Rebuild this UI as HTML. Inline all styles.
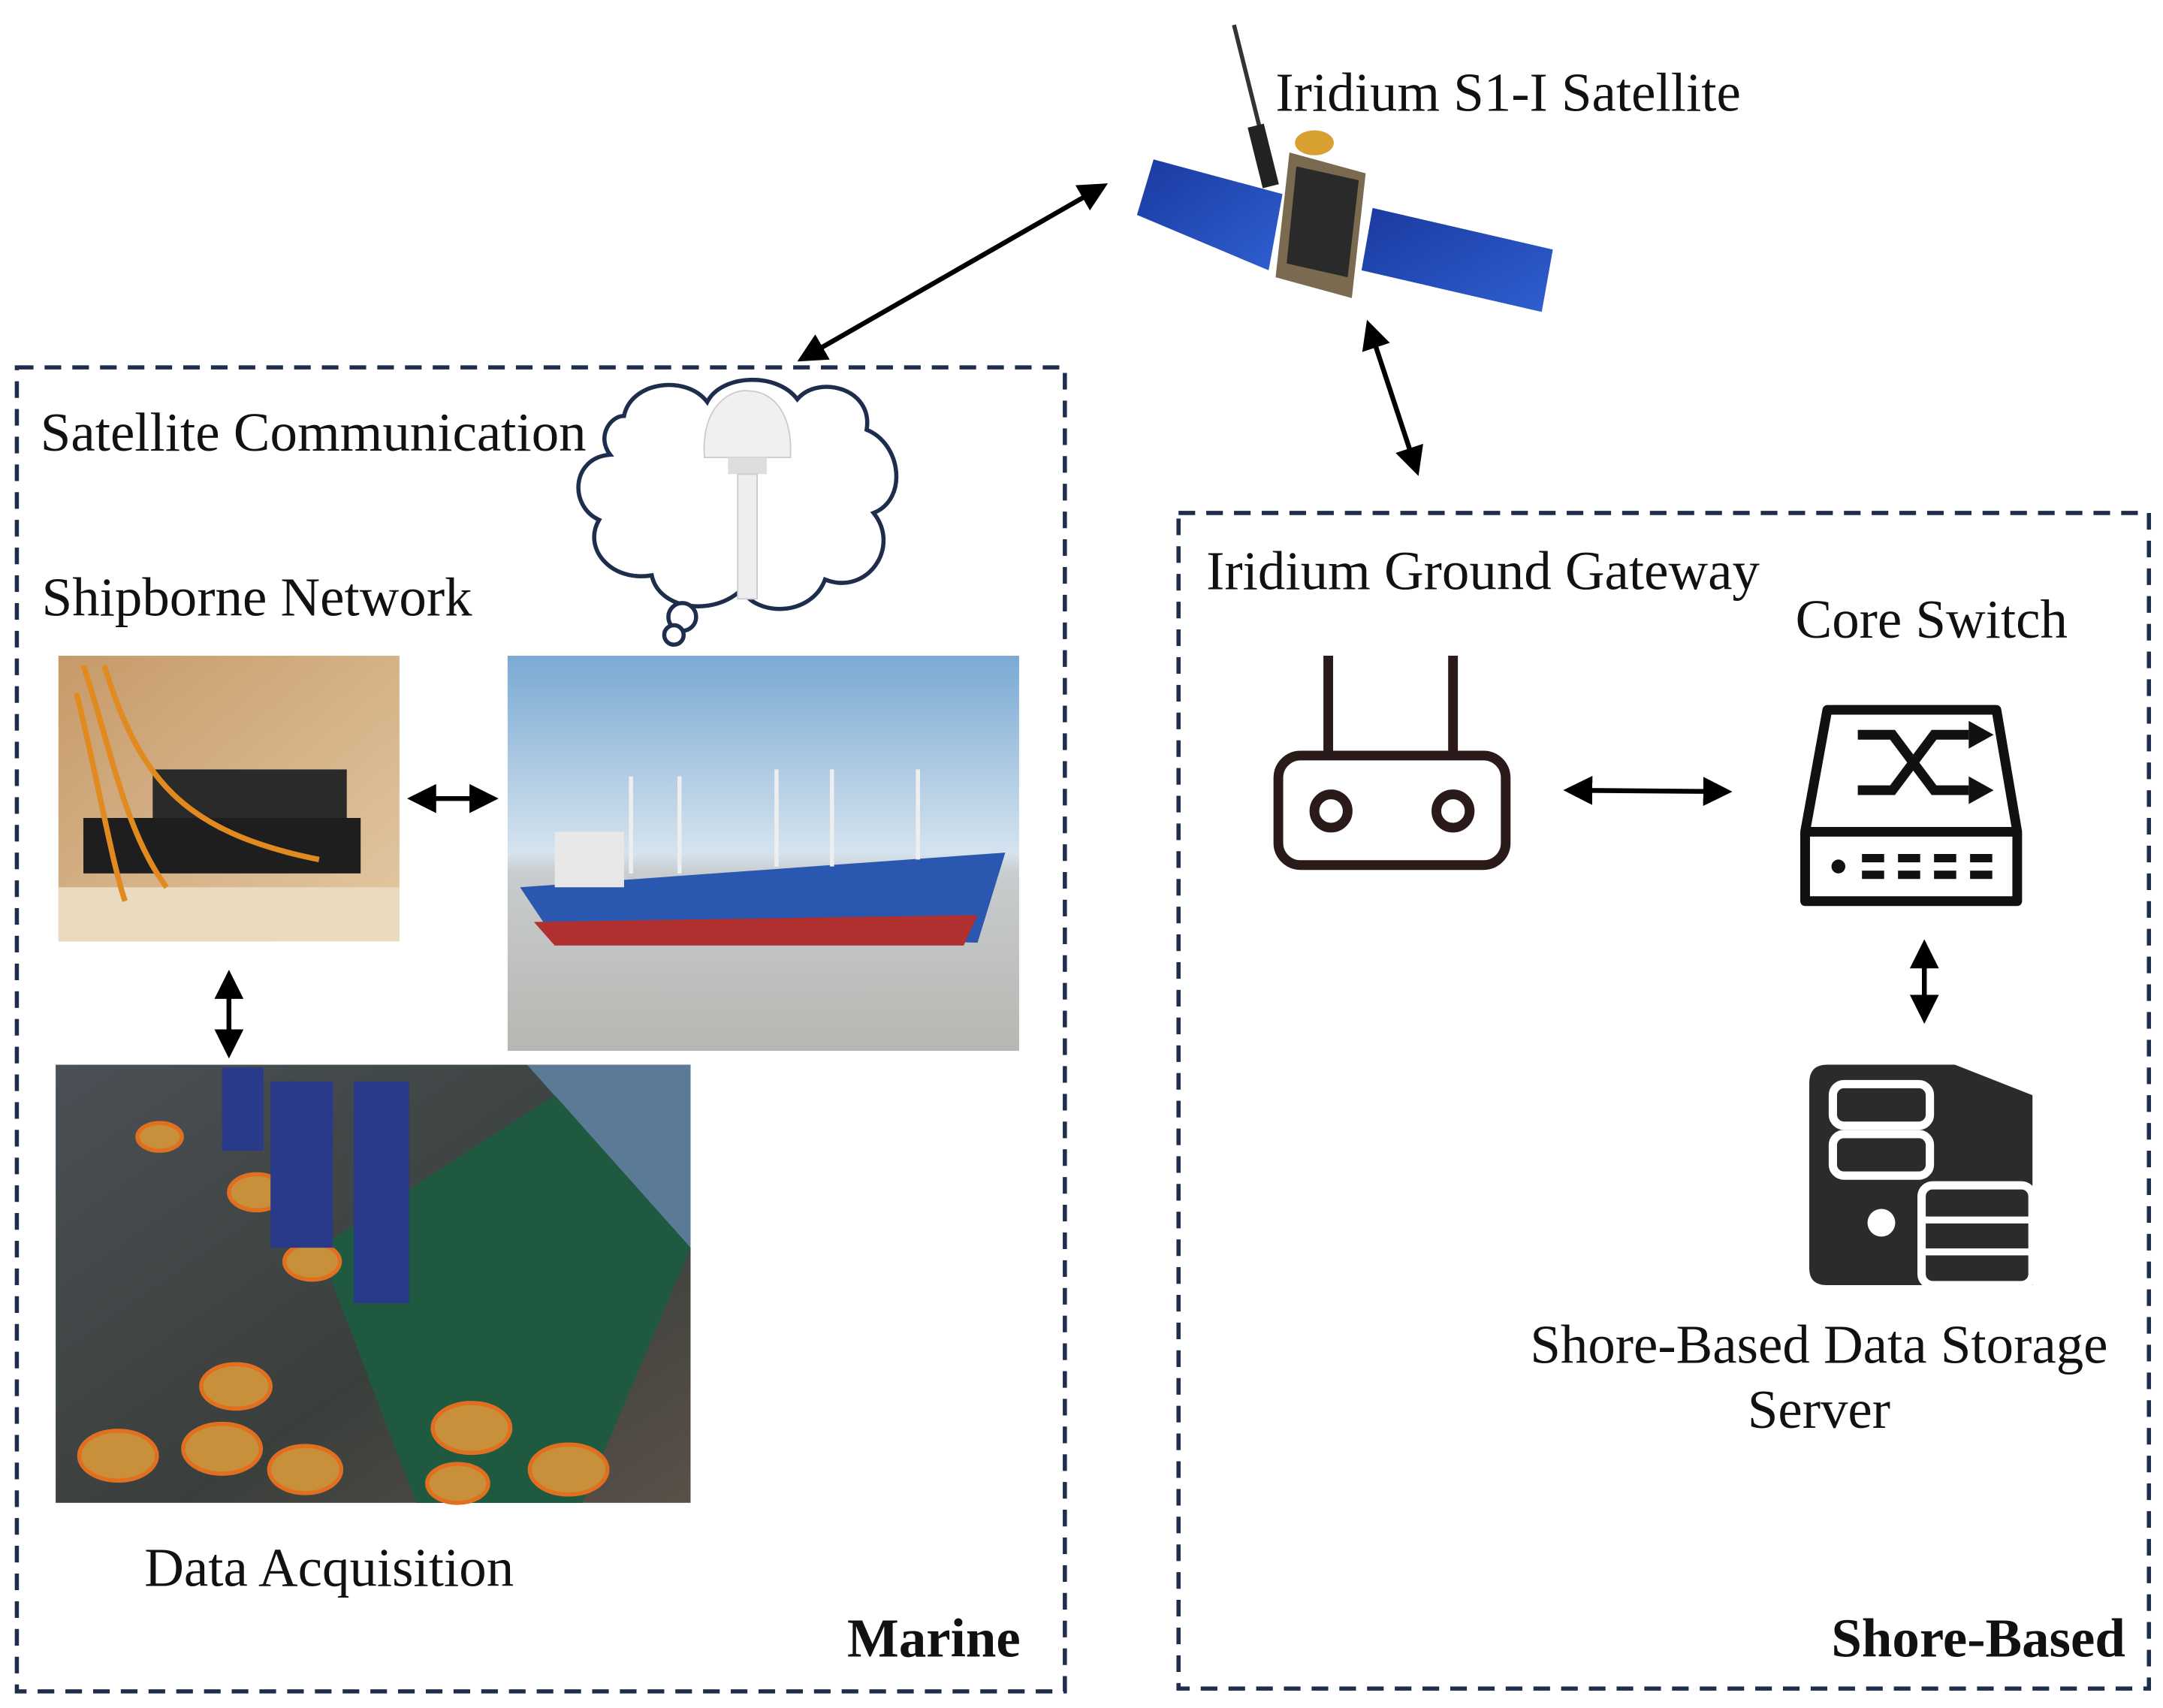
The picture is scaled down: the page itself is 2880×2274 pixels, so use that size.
<!DOCTYPE html>
<html><head><meta charset="utf-8"><style>
html,body{margin:0;padding:0;background:#fff;}
svg{display:block;}
text{font-family:"Liberation Serif",serif;fill:#111;}
</style></head><body>
<svg width="2880" height="2274" viewBox="0 0 1560 1232" xmlns="http://www.w3.org/2000/svg">
<defs>
<marker id="ah" markerWidth="6" markerHeight="6" refX="5" refY="3" orient="auto-start-reverse" markerUnits="strokeWidth">
<path d="M0,0 L6,3 L0,6 Z" fill="#000"/></marker>
<linearGradient id="sky" x1="0" y1="0" x2="0" y2="1">
<stop offset="0" stop-color="#7aaad4"/><stop offset="0.5" stop-color="#d5e3ee"/><stop offset="0.55" stop-color="#c8ccce"/><stop offset="1" stop-color="#b8b6b2"/></linearGradient>
<linearGradient id="wood" x1="0" y1="0" x2="1" y2="1">
<stop offset="0" stop-color="#c79a6a"/><stop offset="1" stop-color="#e3c9a4"/></linearGradient>
<linearGradient id="deck" x1="0" y1="0" x2="1" y2="1">
<stop offset="0" stop-color="#4a5055"/><stop offset="0.6" stop-color="#3a3f3c"/><stop offset="1" stop-color="#5a5048"/></linearGradient>
<linearGradient id="panel" x1="0" y1="0" x2="1" y2="1">
<stop offset="0" stop-color="#1a3aa0"/><stop offset="1" stop-color="#2f5fd0"/></linearGradient>
</defs>

<rect x="12" y="265" width="756" height="955" fill="none" stroke="#1f2d4d" stroke-width="3" stroke-dasharray="12,8"/>
<rect x="850" y="370" width="700" height="848" fill="none" stroke="#1f2d4d" stroke-width="3" stroke-dasharray="12,8"/>

<line x1="890" y1="18" x2="918" y2="130" stroke="#333" stroke-width="3"/>
<rect x="905" y="90" width="12" height="45" fill="#222" transform="rotate(-14 911 112)"/>
<polygon points="832,115 925,140 915,195 820,155" fill="url(#panel)"/>
<polygon points="990,150 1120,180 1112,225 982,195" fill="url(#panel)"/>
<polygon points="930,110 985,125 975,215 920,200" fill="#7a6a50"/>
<polygon points="935,120 980,130 972,200 928,190" fill="#2a2a2a"/>
<ellipse cx="948" cy="103" rx="14" ry="9" fill="#d8a030"/>

<g stroke="#000" stroke-width="3.5" fill="none">
<line x1="578" y1="259" x2="796" y2="134" marker-start="url(#ah)" marker-end="url(#ah)"/>
<line x1="987" y1="234" x2="1022" y2="340" marker-start="url(#ah)" marker-end="url(#ah)"/>
<line x1="297" y1="576" x2="356" y2="576" marker-start="url(#ah)" marker-end="url(#ah)"/>
<line x1="165" y1="703" x2="165" y2="760" marker-start="url(#ah)" marker-end="url(#ah)"/>
<line x1="1131" y1="570" x2="1246" y2="571" marker-start="url(#ah)" marker-end="url(#ah)"/>
<line x1="1388" y1="681" x2="1388" y2="735" marker-start="url(#ah)" marker-end="url(#ah)"/>
</g>

<path d="M450,300 C455,275 495,270 510,290 C520,270 560,268 575,288 C590,270 630,280 625,310 C650,320 655,360 630,370 C650,395 625,430 595,418 C585,445 545,445 535,425 C515,445 475,440 470,415 C440,420 420,395 432,375 C410,365 412,330 440,328 C430,315 440,300 450,300 Z" fill="#fff" stroke="#1f2d4d" stroke-width="3"/>
<circle cx="492" cy="445" r="10" fill="#fff" stroke="#1f2d4d" stroke-width="3"/>
<circle cx="486" cy="458" r="7" fill="#fff" stroke="#1f2d4d" stroke-width="3"/>
<path d="M508,330 C505,290 530,280 540,282 C555,282 572,295 570,330 Z" fill="#f0f0f0" stroke="#ccc"/>
<rect x="525" y="330" width="28" height="12" fill="#ddd"/>
<rect x="532" y="342" width="14" height="90" fill="#eee" stroke="#ccc"/>

<rect x="42" y="473" width="246" height="206" fill="url(#wood)"/>
<rect x="42" y="640" width="246" height="39" fill="#eadbc0"/>
<rect x="110" y="555" width="140" height="40" fill="#2a2a2a"/>
<rect x="60" y="590" width="200" height="40" fill="#1e1e1e"/>
<path d="M60,480 C80,540 90,600 120,640 M75,480 C100,560 130,600 230,620 M55,500 C70,560 80,620 90,650" stroke="#e08a20" stroke-width="4" fill="none"/>

<rect x="366" y="473" width="369" height="285" fill="url(#sky)"/>
<polygon points="375,640 725,615 705,680 395,670" fill="#2a58b0"/>
<polygon points="385,665 705,660 695,682 400,682" fill="#b03030"/>
<rect x="400" y="600" width="50" height="40" fill="#e8e8e8"/>
<g stroke="#eee" stroke-width="3"><line x1="455" y1="560" x2="455" y2="630"/><line x1="490" y1="560" x2="490" y2="630"/><line x1="560" y1="555" x2="560" y2="625"/><line x1="600" y1="555" x2="600" y2="625"/><line x1="662" y1="555" x2="662" y2="620"/></g>

<rect x="40" y="768" width="458" height="316" fill="url(#deck)"/>
<polygon points="380,768 498,768 498,900" fill="#5a7a95"/>
<polygon points="230,900 400,790 498,900 420,1084 300,1084" fill="#1f5a40"/>
<g fill="#c8903a" stroke="#e07020" stroke-width="3">
<ellipse cx="85" cy="1050" rx="28" ry="18"/><ellipse cx="160" cy="1045" rx="28" ry="18"/><ellipse cx="220" cy="1060" rx="26" ry="17"/>
<ellipse cx="170" cy="1000" rx="25" ry="16"/><ellipse cx="225" cy="910" rx="20" ry="13"/><ellipse cx="185" cy="860" rx="20" ry="13"/>
<ellipse cx="115" cy="820" rx="16" ry="10"/><ellipse cx="340" cy="1030" rx="28" ry="18"/><ellipse cx="410" cy="1060" rx="28" ry="18"/><ellipse cx="330" cy="1070" rx="22" ry="14"/>
</g>
<g fill="#2a3a8a"><rect x="195" y="780" width="45" height="120"/><rect x="255" y="780" width="40" height="160"/><rect x="160" y="770" width="30" height="60"/></g>

<g stroke="#2a1a1a" stroke-width="7" fill="none">
<line x1="958" y1="473" x2="958" y2="545"/><line x1="1048" y1="473" x2="1048" y2="545"/>
<rect x="922" y="545" width="164" height="79" rx="16"/>
<circle cx="960" cy="585" r="12"/><circle cx="1048" cy="585" r="12"/>
</g>

<g stroke="#111" stroke-width="7" fill="none">
<path d="M1318,512 H1440 L1455,600 V650 H1302 V600 Z" stroke-linejoin="round"/>
<line x1="1302" y1="600" x2="1455" y2="600"/>
<path d="M1340,530 H1365 L1395,570 H1420 M1340,570 H1365 L1395,530 H1420"/>
</g>
<polygon points="1420,520 1438,530 1420,540" fill="#111"/><polygon points="1420,560 1438,570 1420,580" fill="#111"/>
<circle cx="1326" cy="625" r="5" fill="#111"/>
<g fill="#111"><rect x="1343" y="616" width="16" height="6"/><rect x="1343" y="628" width="16" height="6"/><rect x="1369" y="616" width="16" height="6"/><rect x="1369" y="628" width="16" height="6"/><rect x="1395" y="616" width="16" height="6"/><rect x="1395" y="628" width="16" height="6"/><rect x="1421" y="616" width="16" height="6"/><rect x="1421" y="628" width="16" height="6"/></g>

<path d="M1318,768 H1410 L1466,790 V927 H1318 Q1305,927 1305,915 V781 Q1305,768 1318,768 Z" fill="#2b2b2b"/>
<rect x="1322" y="782" width="70" height="30" rx="8" fill="none" stroke="#fff" stroke-width="6"/>
<rect x="1322" y="818" width="70" height="30" rx="8" fill="none" stroke="#fff" stroke-width="6"/>
<circle cx="1357" cy="882" r="10" fill="#fff"/>
<rect x="1386" y="855" width="80" height="72" rx="8" fill="#2b2b2b" stroke="#fff" stroke-width="6"/>
<line x1="1386" y1="880" x2="1466" y2="880" stroke="#fff" stroke-width="5"/><line x1="1386" y1="903" x2="1466" y2="903" stroke="#fff" stroke-width="5"/>

<g font-size="39.5">
<text x="920" y="80">Iridium S1-I Satellite</text>
<text x="29" y="325">Satellite Communication</text>
<text x="30" y="444">Shipborne Network</text>
<text x="104" y="1144">Data Acquisition</text>
<text x="736" y="1195" font-weight="bold" text-anchor="end">Marine</text>
<text x="870" y="425">Iridium Ground Gateway</text>
<text x="1295" y="460">Core Switch</text>
<text x="1312" y="983" text-anchor="middle">Shore-Based Data Storage</text>
<text x="1312" y="1030" text-anchor="middle">Server</text>
<text x="1533" y="1195" font-weight="bold" text-anchor="end">Shore-Based</text>
</g>
</svg>
</body></html>
